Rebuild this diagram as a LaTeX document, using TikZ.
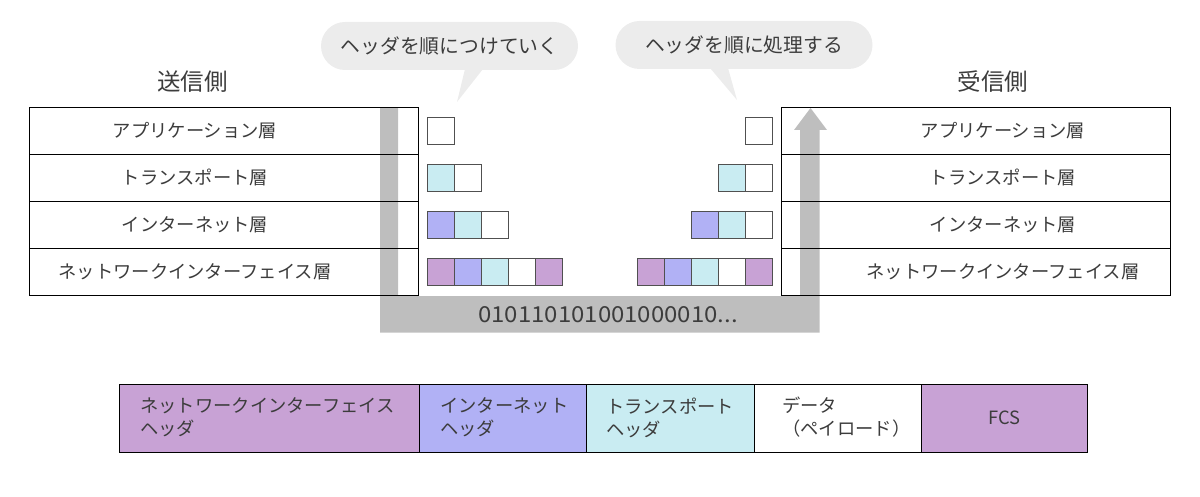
\documentclass[tikz,border=0pt]{standalone}
\usepackage{fontspec}
\usepackage{graphicx}
\setmainfont{Noto Sans CJK JP}
\definecolor{txtc}{HTML}{3C3C3C}
\definecolor{barc}{HTML}{BEBEBE}
\definecolor{bubc}{HTML}{ECECEC}
\definecolor{boxc}{HTML}{505050}
\definecolor{purp}{HTML}{C8A2D5}
\definecolor{blu}{HTML}{B1B1F5}
\definecolor{cya}{HTML}{C9ECF2}
\tikzset{
  lbl/.style={text=txtc, inner sep=0pt, font=\fontsize{18.3}{22}\selectfont},
  ttl/.style={text=txtc, inner sep=0pt, font=\fontsize{23.5}{27}\selectfont},
  layer/.style={draw=black, line width=0.9pt, minimum width=389pt, minimum height=46.9pt, inner sep=0pt, anchor=north west},
  pk/.style={draw=boxc, line width=0.9pt, minimum width=27pt, minimum height=27pt, inner sep=0pt, anchor=north west},
  bubble/.style={fill=bubc, rounded corners=24pt, minimum width=257pt, minimum height=48pt, inner sep=0pt, text=txtc, font=\fontsize{19.8}{23}\selectfont},
  seg/.style={draw=black, line width=0.9pt, minimum height=68pt, inner sep=0pt, anchor=north west},
  segtxt/.style={text=txtc, inner sep=0pt, anchor=west, align=left, font=\fontsize{18.3}{23}\selectfont},
}
\begin{document}
\begin{tikzpicture}[x=1pt,y=-1pt]
\useasboundingbox (0,0) rectangle (1200,497);
% speech bubbles
\node[bubble] (b1) at (449.5,46) {ヘッダを順につけていく};
\fill[bubc] (465,69) -- (457,102) -- (483,69) -- cycle;
\node[bubble] (b2) at (744,45) {ヘッダを順に処理する};
\fill[bubc] (710,68) -- (737,100) -- (728,68) -- cycle;
% titles
\node[ttl] (tl) at (192.5,82) {送信側};
\node[ttl] (tr) at (993,82) {受信側};
% gray bar and arrow
\fill[barc] (380,107.5) -- (398,107.5) -- (398,296) -- (800,296) -- (800,130)
  -- (794,130) -- (810.5,108) -- (827,130) -- (819.5,130) -- (819.5,332.5)
  -- (380,332.5) -- cycle;
\node[text=txtc, inner sep=0pt, font=\fontsize{22}{25}\selectfont, anchor=base] (bits) at (608,323) {\scalebox{1.09}[1]{010110101001000010...}};
% stacks
\foreach \i/\t in {0/アプリケーション層,1/トランスポート層,2/インターネット層,3/ネットワークインターフェイス層}{
  \node[layer] (L\i) at (29,107.5+46.9*\i) {};
  \node[lbl] (Lt\i) at (195,131+46.9*\i) {\t};
  \node[layer] (R\i) at (781,107.5+46.9*\i) {};
  \node[lbl] (Rt\i) at (1003,131+46.9*\i) {\t};
}
% left packets
\node[pk] (a1) at (427,117.5) {};
\node[pk, fill=cya] (a2) at (427,164.5) {};
\node[pk] (a3) at (454,164.5) {};
\node[pk, fill=blu] (a4) at (427,211.3) {};
\node[pk, fill=cya] (a5) at (454,211.3) {};
\node[pk] (a6) at (481,211.3) {};
\node[pk, fill=purp] (a7) at (427,258) {};
\node[pk, fill=blu] (a8) at (454,258) {};
\node[pk, fill=cya] (a9) at (481,258) {};
\node[pk] (a10) at (508,258) {};
\node[pk, fill=purp] (a11) at (535,258) {};
% right packets
\node[pk] (c1) at (745,117.5) {};
\node[pk, fill=cya] (c2) at (718,164.5) {};
\node[pk] (c3) at (745,164.5) {};
\node[pk, fill=blu] (c4) at (691,211.3) {};
\node[pk, fill=cya] (c5) at (718,211.3) {};
\node[pk] (c6) at (745,211.3) {};
\node[pk, fill=purp] (c7) at (637,258) {};
\node[pk, fill=blu] (c8) at (664,258) {};
\node[pk, fill=cya] (c9) at (691,258) {};
\node[pk] (c10) at (718,258) {};
\node[pk, fill=purp] (c11) at (745,258) {};
% frame
\node[seg, fill=purp, minimum width=300pt] (s1) at (119,383.5) {};
\node[seg, fill=blu, minimum width=167pt] (s2) at (419,383.5) {};
\node[seg, fill=cya, minimum width=167.5pt] (s3) at (586,383.5) {};
\node[seg, fill=white, minimum width=167pt] (s4) at (753.5,383.5) {};
\node[seg, fill=purp, minimum width=166.5pt] (s5) at (920.5,383.5) {};
\node[segtxt] (t1) at (140,417.5) {ネットワークインターフェイス\\ヘッダ};
\node[segtxt] (t2) at (440,417.5) {インターネット\\ヘッダ};
\node[segtxt] (t3) at (606,417.5) {トランスポート\\ヘッダ};
\node[segtxt] (t4) at (782,417.5) {データ\\（ペイロード）};
\node[lbl] (t5) at (s5.center) {FCS};
\end{tikzpicture}
\end{document}
